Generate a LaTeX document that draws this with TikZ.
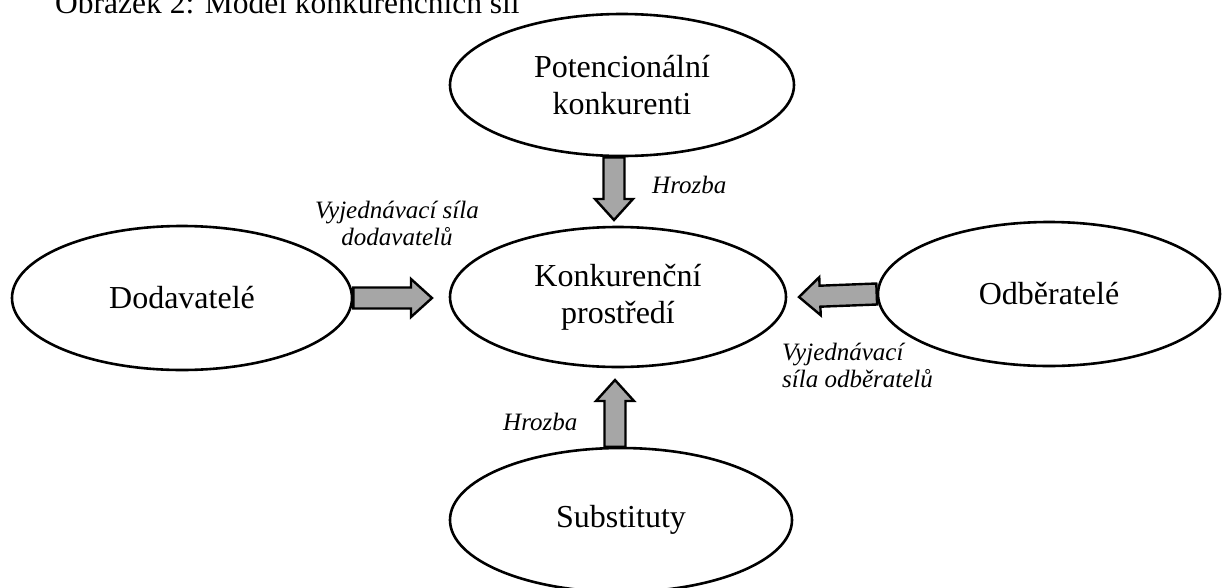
\documentclass[tikz,border=0pt]{standalone}
\usepackage{fontspec}
\setmainfont{Liberation Serif}
\usetikzlibrary{calc,shapes.geometric}
\definecolor{arrowgray}{RGB}{166,166,166}
\tikzset{
  ell/.style={ellipse, draw=black, line width=2.6pt, fill=white, inner sep=0pt,
    align=center, font={\fontsize{32}{37}\selectfont}},
  blockarr/.style={draw=black, fill=arrowgray, line width=2.4pt, line join=miter},
  lbl/.style={inner sep=0pt, font={\itshape\fontsize{25}{27}\selectfont}},
  ttl/.style={inner sep=0pt, font={\fontsize{31.5}{36}\selectfont}}
}
\newcommand\blockarrow[3]{%
  \coordinate (#1h) at ($(#3)!21pt!(#2)$);
  \draw[blockarr] ($(#2)!10.5pt!90:(#3)$) -- ($(#1h)!10.5pt!90:(#3)$)
    -- ($(#1h)!19pt!90:(#3)$) -- (#3) -- ($(#1h)!19pt!-90:(#3)$)
    -- ($(#1h)!10.5pt!-90:(#3)$) -- ($(#2)!10.5pt!-90:(#3)$) -- cycle;}
\begin{document}
\begin{tikzpicture}[x=1pt,y=-1pt]
\useasboundingbox (0,0) rectangle (1227,587);
\clip (0,0) rectangle (1227,587);
\node[ttl, anchor=base west] (title) at (55,13) {Obrázek 2: Model konkurenčních sil};
\node[ell, minimum width=344pt, minimum height=142pt] (T) at (622,85) {Potencionální\\konkurenti};
\node[ell, minimum width=336pt, minimum height=140pt] (M) at (618,297) {Konkurenční\\prostředí};
\node[ell, minimum width=340pt, minimum height=144pt] (L) at (182,298) {Dodavatelé};
\node[ell, minimum width=342pt, minimum height=144pt] (R) at (1049,294) {Odběratelé};
\node[ell, minimum width=342pt, minimum height=144pt] (B) at (621,520) {Substituty};
\coordinate (tT) at (614,220);
\coordinate (tL) at (432,298);
\coordinate (tR) at (799,297);
\coordinate (tB) at (615,380);
\blockarrow{aT}{tT |- T.south}{tT}
\blockarrow{aL}{L.east}{tL}
\blockarrow{aR}{R.west}{tR}
\blockarrow{aB}{tB |- B.north}{tB}
\node[lbl, anchor=base west] (hT) at (652,193) {Hrozba};
\node[lbl, anchor=base west] (hB) at (503,430) {Hrozba};
\node[lbl, anchor=north, align=center] (vL) at (397,201) {Vyjednávací síla\\dodavatelů};
\node[lbl, anchor=north west, align=left] (vR) at (782,343) {Vyjednávací\\síla odběratelů};
\end{tikzpicture}
\end{document}
